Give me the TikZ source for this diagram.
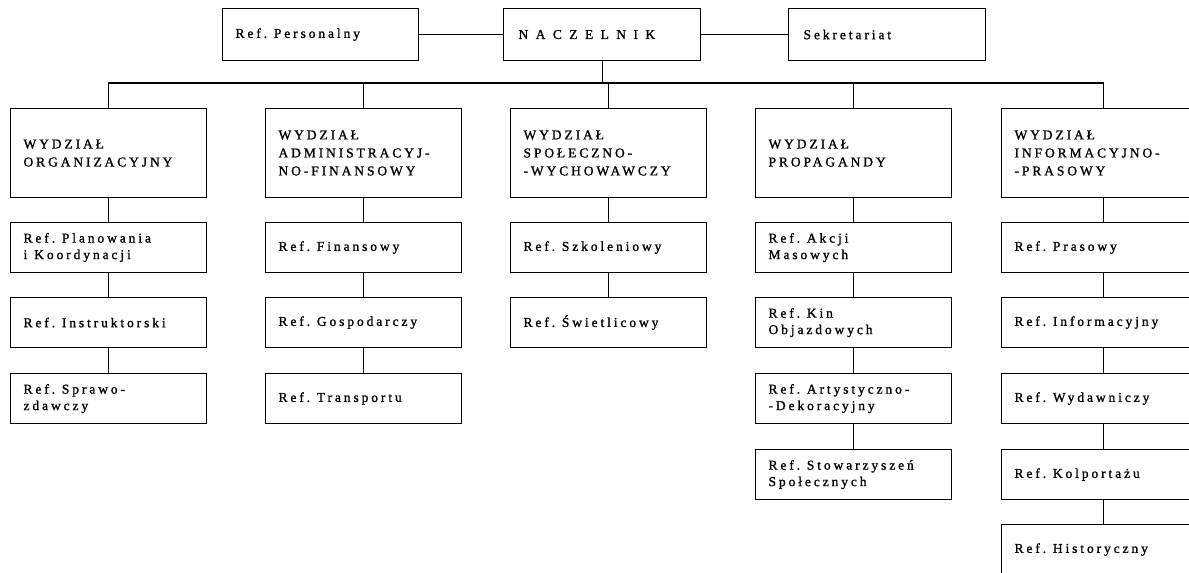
\documentclass[tikz,border=0pt]{standalone}
\usepackage{fontspec}
\setmainfont{Liberation Serif}[LetterSpace=21.5,WordSpace=1.5,FakeBold=1.2]
\usepackage{tikz}
\usetikzlibrary{positioning}

\begin{document}
\begin{tikzpicture}[x=1pt,y=-1pt,
	box/.style={draw,rectangle,anchor=north west,line width=1.1pt,
		inner xsep=13pt,inner ysep=0pt,text width=170pt,align=left,
		minimum height=50pt,font=\fontsize{13.5}{16.5}\selectfont},
	head/.style={box,minimum height=89pt,font=\fontsize{13.5}{18}\selectfont},
	wide/.style={text width=178pt},
	link/.style={line width=1.1pt}]
	\useasboundingbox (0,0) rectangle (1189,573);
	% kierownictwo
	\node[box,minimum height=52pt] (personalny) at (222,8) {Ref. Personalny};
	\node[box,minimum height=52pt,inner xsep=15pt,text width=167pt,
		font=\fontsize{13.5}{16.5}\selectfont\addfontfeature{LetterSpace=55}] (naczelnik) at (503,8) {NACZELNIK};
	\node[box,minimum height=52pt,inner xsep=15pt,text width=167pt] (sekretariat) at (788,8) {Sekretariat};
	\draw[link] (personalny) -- (naczelnik);
	\draw[link] (naczelnik) -- (sekretariat);
	% wydzialy
	\node[head] (w1) at (10,108) {WYDZIAŁ\\ORGANIZACYJNY};
	\node[head] (w2) at (265,108) {WYDZIAŁ\\ADMINISTRACYJ-\\NO-FINANSOWY};
	\node[head] (w3) at (510,108) {WYDZIAŁ\\SPOŁECZNO-\\-WYCHOWAWCZY};
	\node[head] (w4) at (755,108) {WYDZIAŁ\\PROPAGANDY};
	\node[head,wide] (w5) at (1001,108) {WYDZIAŁ\\INFORMACYJNO-\\-PRASOWY};
	\coordinate (bus) at (naczelnik.south |- 0,83);
	\draw[link] (naczelnik) -- (bus);
	\draw[link] (w1.north) |- (bus) -| (w5.north);
	\draw[link] (w2.north) -- (w2.north |- bus);
	\draw[link] (w3.north) -- (w3.north |- bus);
	\draw[link] (w4.north) -- (w4.north |- bus);
	% referaty
	\node[box] (w1a) at (10,222) {Ref. Planowania\\i\hspace{7pt}Koordynacji};
	\node[box] (w1b) at (10,297) {Ref. Instruktorski};
	\node[box] (w1c) at (10,373) {Ref. Sprawo-\\zdawczy};
	\node[box] (w2a) at (265,222) {Ref. Finansowy};
	\node[box] (w2b) at (265,297) {Ref. Gospodarczy};
	\node[box] (w2c) at (265,373) {Ref. Transportu};
	\node[box] (w3a) at (510,222) {Ref. Szkoleniowy};
	\node[box] (w3b) at (510,297) {Ref. Świetlicowy};
	\node[box] (w4a) at (755,222) {Ref. Akcji\\Masowych};
	\node[box] (w4b) at (755,297) {Ref. Kin\\Objazdowych};
	\node[box] (w4c) at (755,373) {Ref. Artystyczno-\\-Dekoracyjny};
	\node[box] (w4d) at (755,449) {Ref. Stowarzyszeń\\Społecznych};
	\node[box,wide] (w5a) at (1001,222) {Ref. Prasowy};
	\node[box,wide] (w5b) at (1001,297) {Ref. Informacyjny};
	\node[box,wide] (w5c) at (1001,373) {Ref. Wydawniczy};
	\node[box,wide] (w5d) at (1001,449) {Ref. Kolportażu};
	\node[box,wide] (w5e) at (1001,524) {Ref. Historyczny};
	\draw[link] (w1) -- (w1a) (w1a) -- (w1b) (w1b) -- (w1c);
	\draw[link] (w2) -- (w2a) (w2a) -- (w2b) (w2b) -- (w2c);
	\draw[link] (w3) -- (w3a) (w3a) -- (w3b);
	\draw[link] (w4) -- (w4a) (w4a) -- (w4b) (w4b) -- (w4c) (w4c) -- (w4d);
	\draw[link] (w5) -- (w5a) (w5a) -- (w5b) (w5b) -- (w5c) (w5c) -- (w5d) (w5d) -- (w5e);
\end{tikzpicture}
\end{document}
